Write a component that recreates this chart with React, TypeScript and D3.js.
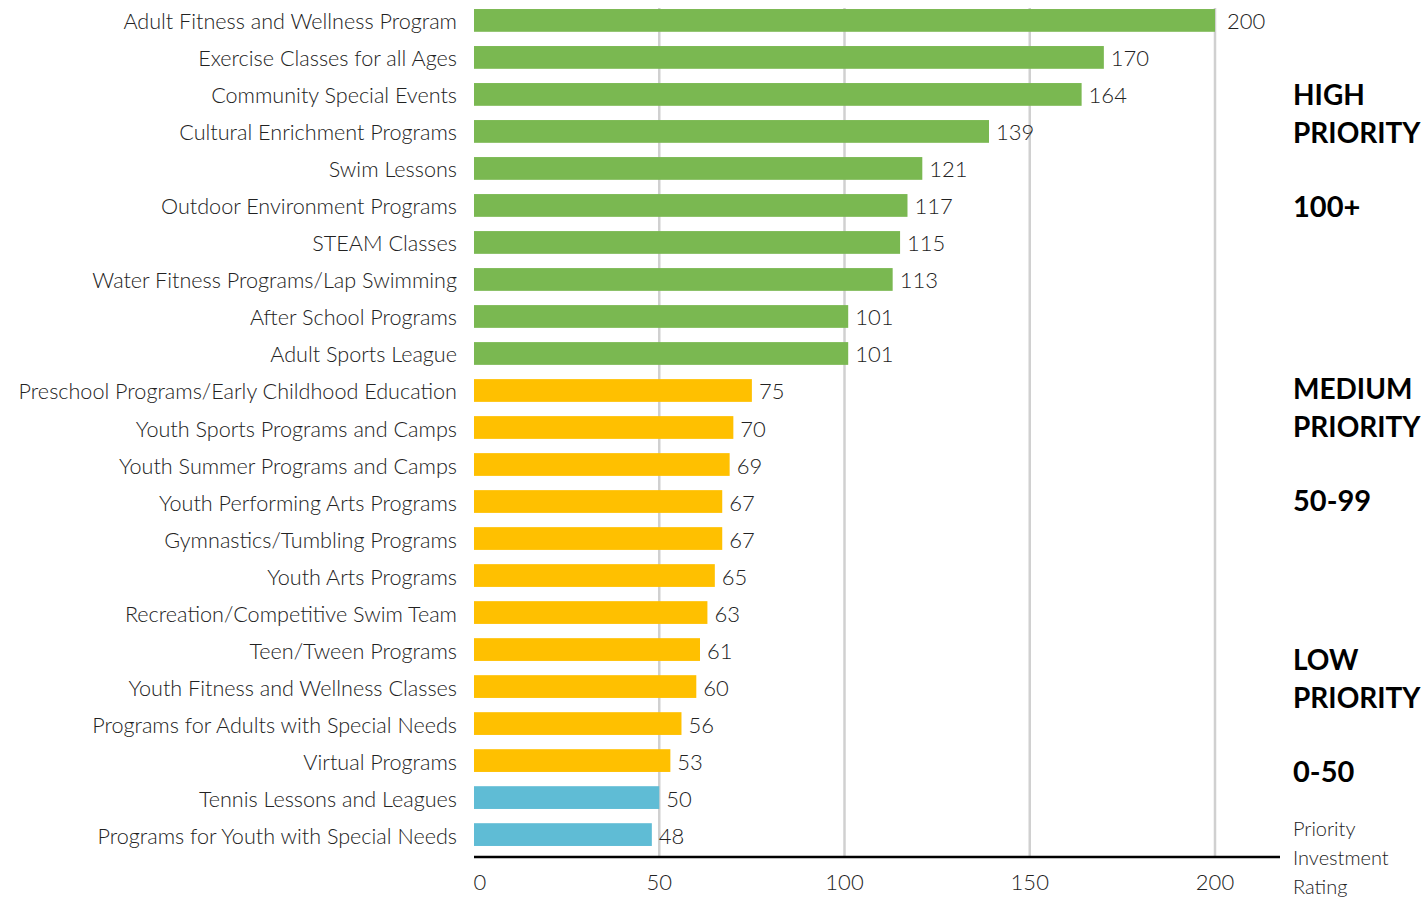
import React from "react";
import * as d3 from "d3";

const categories = [
  "Adult Fitness and Wellness Program",
  "Exercise Classes for all Ages",
  "Community Special Events",
  "Cultural Enrichment Programs",
  "Swim Lessons",
  "Outdoor Environment Programs",
  "STEAM Classes",
  "Water Fitness Programs/Lap Swimming",
  "After School Programs",
  "Adult Sports League",
  "Preschool Programs/Early Childhood Education",
  "Youth Sports Programs and Camps",
  "Youth Summer Programs and Camps",
  "Youth Performing Arts Programs",
  "Gymnastics/Tumbling Programs",
  "Youth Arts Programs",
  "Recreation/Competitive Swim Team",
  "Teen/Tween Programs",
  "Youth Fitness and Wellness Classes",
  "Programs for Adults with Special Needs",
  "Virtual Programs",
  "Tennis Lessons and Leagues",
  "Programs for Youth with Special Needs",
];

const values = [200, 170, 164, 139, 121, 117, 115, 113, 101, 101, 75, 70, 69, 67, 67, 65, 63, 61, 60, 56, 53, 50, 48];

const xTicks = [0, 50, 100, 150, 200];

const priorityGroups = [
  { lines: ["HIGH", "PRIORITY"], range: "100+" },
  { lines: ["MEDIUM", "PRIORITY"], range: "50-99" },
  { lines: ["LOW", "PRIORITY"], range: "0-50" },
];

const axisTitle = ["Priority", "Investment", "Rating"];

const colorFor = (v: number) => (v > 99 ? "#7ab851" : v > 50 ? "#ffc000" : "#5fbcd5");

export default function App() {
  const W = 1428;
  const H = 901;
  const x = d3.scaleLinear().domain([0, 200]).range([474, 1215]);
  const y = d3
    .scaleBand<string>()
    .domain(categories)
    .range([2, 2 + 37 * categories.length])
    .paddingInner(0.385)
    .paddingOuter(0.19);
  const bw = y.bandwidth();
  const axisY = 857;
  const font = "Lato, 'Noto Sans', sans-serif";

  const groupTops = [105, 399, 670];

  return (
    <svg width={W} height={H} style={{ position: "absolute", left: 0, top: 0, display: "block" }} fontFamily={font}>
      <rect width={W} height={H} fill="#fff" />
      {xTicks.slice(1).map((t) => (
        <line key={t} x1={x(t)} x2={x(t)} y1={8} y2={axisY} stroke="#d0d0d0" strokeWidth={2.5} />
      ))}
      {categories.map((c, i) => {
        const yy = y(c)!;
        const v = values[i];
        return (
          <g key={c}>
            <rect x={x(0)} y={yy} width={x(v) - x(0)} height={bw} fill={colorFor(v)} />
            <text x={457} y={yy + bw / 2 + 9} textAnchor="end" fontSize={21.6} fontWeight={300} fill="#222">
              {c}
            </text>
            <text x={x(v) + (v === 200 ? 12 : 7)} y={yy + bw / 2 + 9} fontSize={22} fontWeight={300} fill="#222">
              {v}
            </text>
          </g>
        );
      })}
      <line x1={x(0)} x2={1280} y1={axisY} y2={axisY} stroke="#000" strokeWidth={2.5} />
      {xTicks.map((t) => (
        <text key={t} x={t === 0 ? x(t) + 6 : x(t)} y={890} textAnchor="middle" fontSize={22} fontWeight={300} fill="#222">
          {t}
        </text>
      ))}
      {priorityGroups.map((g, i) => (
        <g key={g.range}>
          {g.lines.map((l, j) => (
            <text key={l} x={1293} y={groupTops[i] + j * 37.5} fontSize={28} fontWeight={700} fill="#000">
              {l}
            </text>
          ))}
          <text x={1293} y={groupTops[i] + 112} fontSize={29} fontWeight={700} fill="#000">
            {g.range}
          </text>
        </g>
      ))}
      {axisTitle.map((l, j) => (
        <text key={l} x={1293} y={836 + j * 29} fontSize={20} fontWeight={300} fill="#222">
          {l}
        </text>
      ))}
    </svg>
  );
}
